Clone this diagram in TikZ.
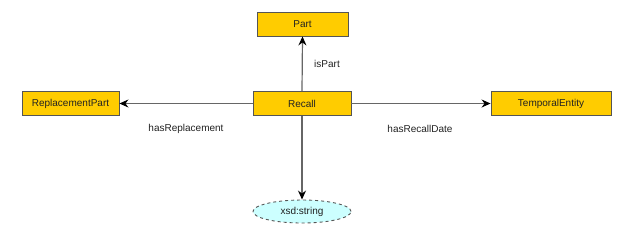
\documentclass[tikz,border=0pt]{standalone}
\usepackage{fontspec}
\setmainfont{Liberation Sans}
\usetikzlibrary{arrows.meta,shapes.geometric}
\definecolor{classfill}{HTML}{FFCC00}
\definecolor{classline}{HTML}{555555}
\definecolor{litfill}{HTML}{CCFFFF}
\definecolor{edgeline}{HTML}{666666}
\definecolor{txt}{HTML}{222222}
\tikzset{
  classbox/.style={draw=classline, line width=0.9pt, fill=classfill, inner sep=0pt,
    minimum height=24pt, font=\fontsize{10}{12}\selectfont, text=txt},
  literal/.style={ellipse, draw=classline, dashed, line width=0.9pt, fill=litfill, inner sep=0pt,
    minimum width=98pt, minimum height=23pt, font=\fontsize{10}{12}\selectfont, text=txt},
  relation/.style={draw=edgeline, line width=1.2pt, -{Stealth[length=9pt,width=8pt,inset=3pt,fill=black,color=black]}},
  rellabel/.style={font=\fontsize{10}{12}\selectfont, text=txt, inner sep=0pt},
}
\begin{document}
\begin{tikzpicture}[x=1pt,y=-1pt]
  \path[use as bounding box, fill=white] (0,0) rectangle (623,250);
  \node[classbox, minimum width=91pt] (part) at (302.5,24) {Part};
  \node[classbox, minimum width=98pt] (recall) at (302,103.5) {Recall};
  \node[classbox, minimum width=97pt] (repl) at (70.5,103.5) {ReplacementPart};
  \node[classbox, minimum width=120pt] (temp) at (551,103.5) {TemporalEntity};
  \node[literal] (str) at (302,211.5) {xsd:string};
  \draw[relation] (recall.north) -- (part.south);
  \draw[relation] (recall.west) -- (repl.east);
  \draw[relation] (recall.east) -- (temp.west);
  \draw[relation] (recall.south) -- (str.north);
  \node[rellabel] (lpart) at (327,64) {isPart};
  \node[rellabel] (lrepl) at (186,129) {hasReplacement};
  \node[rellabel] (ldate) at (420,129) {hasRecallDate};
\end{tikzpicture}
\end{document}
